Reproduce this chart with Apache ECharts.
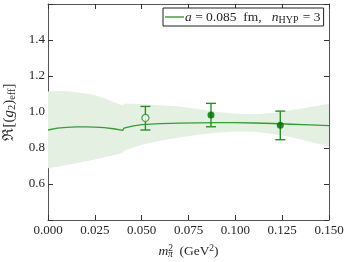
<!DOCTYPE html>
<html>
<head>
<meta charset="utf-8">
<script src="https://cdn.jsdelivr.net/npm/echarts@6/dist/echarts.min.js"></script>
<style>html,body{margin:0;padding:0;background:#fff;}#c{width:349px;height:262px;}</style>
</head>
<body>
<div id="c"></div>
<script>
// ---- data ----
var fitX   = [0, 0.005, 0.01, 0.015, 0.02, 0.025, 0.03, 0.035, 0.04, 0.0405, 0.045, 0.05, 0.06, 0.07, 0.08, 0.09, 0.10, 0.11, 0.12, 0.13, 0.14, 0.15];
var fitY   = [0.900, 0.910, 0.915, 0.917, 0.917, 0.916, 0.913, 0.907, 0.898, 0.911, 0.922, 0.930, 0.935, 0.938, 0.940, 0.941, 0.941, 0.939, 0.936, 0.932, 0.928, 0.924];
var bandHi = [1.114, 1.116, 1.115, 1.110, 1.103, 1.095, 1.077, 1.056, 1.035, 1.046, 1.046, 1.043, 1.038, 1.030, 1.017, 1.002, 0.990, 0.988, 0.995, 1.010, 1.028, 1.046];
var bandLo = [0.688, 0.696, 0.705, 0.715, 0.725, 0.736, 0.748, 0.760, 0.772, 0.785, 0.800, 0.818, 0.840, 0.858, 0.873, 0.885, 0.892, 0.890, 0.878, 0.860, 0.835, 0.807];
var openPts   = [[0.052, 0.967, 0.900, 1.031]];
var filledPts = [[0.087, 0.983, 0.918, 1.048], [0.124, 0.926, 0.846, 1.005]];
var xTicks = [0, 0.025, 0.05, 0.075, 0.1, 0.125, 0.15];
var yLabels = [0.6, 0.8, 1.0, 1.2, 1.4];
var legendName = 'a = 0.085 fm, nHYP = 3';

var SERIF = '"Liberation Serif", "DejaVu Serif", serif';
var TXT = '#262626';
var FRAME = '#555555';
var GREEN_LINE = '#3a9a3a';
var GREEN_ERR = '#2a8f2a';
var GREEN_DOT = '#006c00';
var BAND = '#e4f1e2';

var chart = echarts.init(document.getElementById('c'), null, {renderer: 'canvas'});

function errRender(params, api) {
  var x = api.value(0), lo = api.value(2), hi = api.value(3);
  var pHi = api.coord([x, hi]), pLo = api.coord([x, lo]);
  var cw = 5;
  var st = {stroke: GREEN_ERR, lineWidth: 1.4};
  return {type: 'group', children: [
    {type: 'line', shape: {x1: pHi[0], y1: pHi[1], x2: pLo[0], y2: pLo[1]}, style: st},
    {type: 'line', shape: {x1: pHi[0]-cw, y1: pHi[1], x2: pHi[0]+cw, y2: pHi[1]}, style: st},
    {type: 'line', shape: {x1: pLo[0]-cw, y1: pLo[1], x2: pLo[0]+cw, y2: pLo[1]}, style: st}
  ]};
}

var axisCommonX = {
  type: 'value', min: 0, max: 0.15, interval: 0.025,
  splitLine: {show: false},
  axisLine: {show: true, onZero: false, lineStyle: {color: FRAME, width: 1}},
  axisTick: {show: true, inside: true, length: 5, lineStyle: {color: '#333', width: 1}}
};
var axisCommonY = {
  type: 'value', min: 0.4, max: 1.6, interval: 0.2,
  splitLine: {show: false},
  axisLine: {show: true, onZero: false, lineStyle: {color: FRAME, width: 1}},
  axisTick: {show: true, inside: true, length: 5, lineStyle: {color: '#333', width: 1}}
};

var option = {
  animation: false,
  backgroundColor: '#fff',
  grid: {left: 48, right: 20, top: 4, bottom: 42, containLabel: false, outerBoundsMode: 'none'},
  legend: {
    left: 163, top: 8,
    data: [{name: legendName, icon: 'rect'}],
    itemWidth: 19, itemHeight: 1.4, itemGap: 0,
    padding: [2, 3, 1, 2],
    borderColor: '#222', borderWidth: 1, borderRadius: 0,
    backgroundColor: '#fff',
    formatter: function () { return '{i|a} = 0.085  fm,   {i|n}{s|HYP} = 3'; },
    textStyle: {
      fontFamily: SERIF, fontSize: 13.5, color: TXT, padding: [0, 0, 0, -4],
      rich: {
        i: {fontFamily: SERIF, fontSize: 13.5, fontStyle: 'italic', color: TXT},
        s: {fontFamily: SERIF, fontSize: 10, color: TXT, verticalAlign: 'bottom', padding: [6, 1, 0, 0]}
      }
    }
  },
  xAxis: [
    Object.assign({}, axisCommonX, {
      position: 'bottom',
      axisLabel: {
        fontFamily: SERIF, fontSize: 13, color: TXT, margin: 4,
        formatter: function (v) { return v.toFixed(3); }
      },
      name: '{i|m}{sup|2}{sub|π}  (GeV{sup|2})',
      nameLocation: 'middle', nameGap: 23,
      nameTextStyle: {
        fontFamily: SERIF, fontSize: 13.5, color: TXT,
        rich: {
          i: {fontFamily: SERIF, fontSize: 13.5, fontStyle: 'italic', color: TXT},
          sup: {fontFamily: SERIF, fontSize: 9.5, color: TXT, verticalAlign: 'top', padding: [0, 0, 6, 0]},
          sub: {fontFamily: SERIF, fontSize: 9.5, fontStyle: 'italic', color: TXT, verticalAlign: 'bottom', padding: [5, 0, 0, -5]}
        }
      }
    }),
    Object.assign({}, axisCommonX, {position: 'top', axisLabel: {show: false}})
  ],
  yAxis: [
    Object.assign({}, axisCommonY, {
      position: 'left',
      axisLabel: {
        fontFamily: SERIF, fontSize: 13, color: TXT, margin: 3,
        formatter: function (v) {
          for (var i = 0; i < yLabels.length; i++) { if (Math.abs(v - yLabels[i]) < 1e-6) return v.toFixed(1); }
          return '';
        }
      },
      name: '{a|ℜ[(}{i|g}{s|2}{a|)}{s|eff}{a|]}',
      nameLocation: 'middle', nameGap: 27, nameRotate: 90,
      nameTextStyle: {
        fontFamily: SERIF, fontSize: 15, color: TXT,
        rich: {
          a: {fontFamily: SERIF, fontSize: 15, color: TXT},
          i: {fontFamily: SERIF, fontSize: 15, fontStyle: 'italic', color: TXT},
          s: {fontFamily: SERIF, fontSize: 10.5, color: TXT, verticalAlign: 'bottom', padding: [6, 0, 0, 0]}
        }
      }
    }),
    Object.assign({}, axisCommonY, {position: 'right', axisLabel: {show: false}})
  ],
  series: [
    {
      type: 'custom', name: 'band', silent: true, z: 1, clip: true,
      data: fitX.map(function (x, i) { return [x, bandLo[i], bandHi[i]]; }),
      encode: {x: 0, y: [1, 2]},
      renderItem: function (params, api) {
        if (params.dataIndex !== 0) return null;
        var pts = [];
        for (var i = 0; i < fitX.length; i++) pts.push(api.coord([fitX[i], bandHi[i]]));
        for (var j = fitX.length - 1; j >= 0; j--) pts.push(api.coord([fitX[j], bandLo[j]]));
        return {type: 'polygon', shape: {points: pts}, style: {fill: BAND}};
      }
    },
    {
      type: 'line', name: legendName, z: 3,
      data: fitX.map(function (x, i) { return [x, fitY[i]]; }),
      showSymbol: false, symbol: 'none', smooth: false,
      lineStyle: {color: GREEN_LINE, width: 1.3},
      itemStyle: {color: GREEN_LINE}
    },
    {
      type: 'custom', name: 'errOpen', z: 4,
      data: openPts, encode: {x: 0, y: [2, 3]},
      renderItem: errRender
    },
    {
      type: 'custom', name: 'errFilled', z: 4,
      data: filledPts, encode: {x: 0, y: [2, 3]},
      renderItem: errRender
    },
    {
      type: 'scatter', name: 'open', z: 5,
      data: openPts.map(function (p) { return [p[0], p[1]]; }),
      symbol: 'circle', symbolSize: 7,
      itemStyle: {color: '#ffffff', borderColor: GREEN_ERR, borderWidth: 1.3}
    },
    {
      type: 'scatter', name: 'filled', z: 5,
      data: filledPts.map(function (p) { return [p[0], p[1]]; }),
      symbol: 'circle', symbolSize: 7,
      itemStyle: {color: GREEN_DOT}
    }
  ]
};
chart.setOption(option);
</script>
</body>
</html>
